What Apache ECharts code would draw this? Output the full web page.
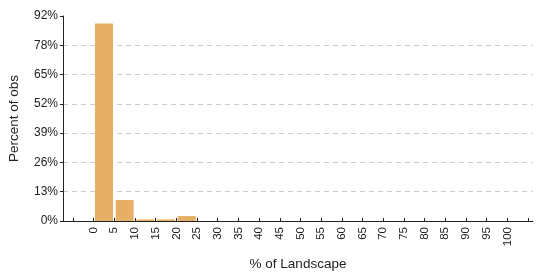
<!DOCTYPE html>
<html lang="en">
<head>
    <meta charset="UTF-8">
    <title>% of Landscape</title>
    <script src="https://cdn.jsdelivr.net/npm/echarts@6/dist/echarts.min.js"></script>
    <style>
        html, body { margin: 0; padding: 0; background: #ffffff; }
        #chart { width: 536px; height: 273px; }
    </style>
</head>
<body>
<div id="chart"></div>
<script>
    // bin centres (5-unit bins) and percent of obs
    var binCenters = [2.5, 7.5, 12.5, 17.5, 22.5];
    var binPercent = [88.3, 9.4, 0.7, 0.7, 2.2];
    var xTicks = [-5, 0, 5, 10, 15, 20, 25, 30, 35, 40, 45, 50, 55, 60, 65, 70, 75, 80, 85, 90, 95, 100, 105];
    var xLabels = [0, 5, 10, 15, 20, 25, 30, 35, 40, 45, 50, 55, 60, 65, 70, 75, 80, 85, 90, 95, 100];
    var yTickLabels = ['0%', '13%', '26%', '39%', '52%', '65%', '78%', '92%'];
    var yStep = 13.1;

    var barData = [];
    for (var i = 0; i < binCenters.length; i++) {
        barData.push([binCenters[i], binPercent[i]]);
    }

    var chart = echarts.init(document.getElementById('chart'));
    var option = {
        animation: false,
        grid: { left: 63, right: 3, top: 16, bottom: 52, outerBoundsMode: 'none' },
        xAxis: {
            type: 'value',
            min: -7.4,
            max: 106.2,
            name: '% of Landscape',
            nameLocation: 'middle',
            nameGap: 36,
            nameTextStyle: { fontFamily: 'Liberation Sans', fontSize: 13.5, color: '#222' },
            axisLine: { onZero: false, lineStyle: { color: '#222', width: 1 } },
            axisTick: { customValues: xTicks, inside: true, length: 3, lineStyle: { color: '#222' } },
            axisLabel: {
                customValues: xLabels,
                rotate: 90,
                margin: 6,
                fontFamily: 'Liberation Sans',
                fontSize: 11.5,
                color: '#222'
            },
            splitLine: { show: false }
        },
        yAxis: {
            type: 'value',
            min: 0,
            max: 91.7,
            interval: yStep,
            name: 'Percent of obs',
            nameLocation: 'middle',
            nameGap: 42,
            nameTextStyle: { fontFamily: 'Liberation Sans', fontSize: 13.5, color: '#222' },
            axisLine: { show: true, onZero: false, lineStyle: { color: '#222', width: 1 } },
            axisTick: { show: true, length: 3, lineStyle: { color: '#222' } },
            axisLabel: {
                margin: 5,
                fontFamily: 'Liberation Sans',
                fontSize: 12,
                color: '#222',
                formatter: function (v) {
                    return yTickLabels[Math.round(v / yStep)];
                }
            },
            splitLine: {
                show: true,
                showMinLine: false,
                showMaxLine: false,
                lineStyle: { color: '#cccccc', type: [5, 4], width: 1 }
            }
        },
        series: [{
            type: 'bar',
            data: barData,
            barWidth: 18,
            itemStyle: { color: '#e5af65' }
        }]
    };
    chart.setOption(option);
</script>
</body>
</html>
